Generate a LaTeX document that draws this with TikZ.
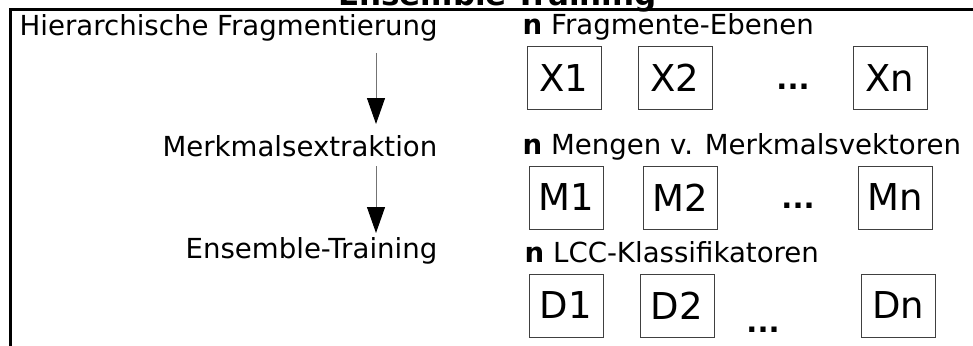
\documentclass[tikz,border=0pt]{standalone}
\usepackage{fontspec}
\setmainfont{DejaVu Sans}
\usetikzlibrary{arrows.meta}
\begin{document}
\begin{tikzpicture}[x=1pt,y=-1pt,
  lbl/.style={inner sep=0pt,font=\fontsize{27.6}{32}\selectfont},
  titlelbl/.style={inner sep=0pt,font=\fontsize{31}{36}\selectfont\bfseries},
  boxnode/.style={draw=black!75,line width=1pt,minimum width=74pt,minimum height=63pt,inner sep=0pt,font=\fontsize{37}{44}\selectfont},
  dotsnode/.style={inner sep=0pt,anchor=base,font=\fontsize{29}{34}\selectfont\bfseries},
  flow/.style={draw=black!55,line width=1pt,-{Triangle[length=26pt,width=18pt,color=black]}},
  frame/.style={line width=2.5pt}]
\useasboundingbox (0,0) rectangle (973,345);
% frame and title
\draw[frame] (10.5,350) |- (980,9.5);
\node[titlelbl,anchor=base] (title) at (497.5,6) {Ensemble-Training};
% left labels
\node[lbl,anchor=base west] (hf) at (19.5,36) {Hierarchische Fragmentierung};
\node[lbl,anchor=base east] (me) at (437.5,156) {Merkmalsextraktion};
\node[lbl,anchor=base east] (et) at (437.5,258) {Ensemble-Training};
% arrows
\coordinate (a1s) at (376,53);
\coordinate (a1e) at (376,124);
\coordinate (a2s) at (376,166);
\coordinate (a2e) at (376,233);
\draw[flow] (a1s) -- (a1e);
\draw[flow] (a2s) -- (a2e);
% right labels
\node[lbl,anchor=base west] (lx) at (522.5,35) {\textbf{n} Fragmente-Ebenen};
\node[lbl,anchor=base west] (lm) at (522.5,154) {\textbf{n} Mengen v. Merkmalsvektoren};
\node[lbl,anchor=base west] (ld) at (524.5,262) {\textbf{n} LCC-Klassifikatoren};
% row 1
\node[boxnode] (x1) at (564,78) {X1};
\node[boxnode] (x2) at (675,78) {X2};
\node[dotsnode] (xd) at (793,89) {...};
\node[boxnode] (xn) at (890,78) {Xn};
% row 2
\node[boxnode] (m1) at (566,197.5) {M1};
\node[boxnode] (m2) at (680,197.5) {M2};
\node[dotsnode] (md) at (798,208) {...};
\node[boxnode] (mn) at (895,197.5) {Mn};
% row 3
\node[boxnode] (d1) at (566,305.5) {D1};
\node[boxnode] (d2) at (677,305.5) {D2};
\node[dotsnode] (dd) at (763,332) {...};
\node[boxnode] (dn) at (898,305.5) {Dn};
\end{tikzpicture}
\end{document}
